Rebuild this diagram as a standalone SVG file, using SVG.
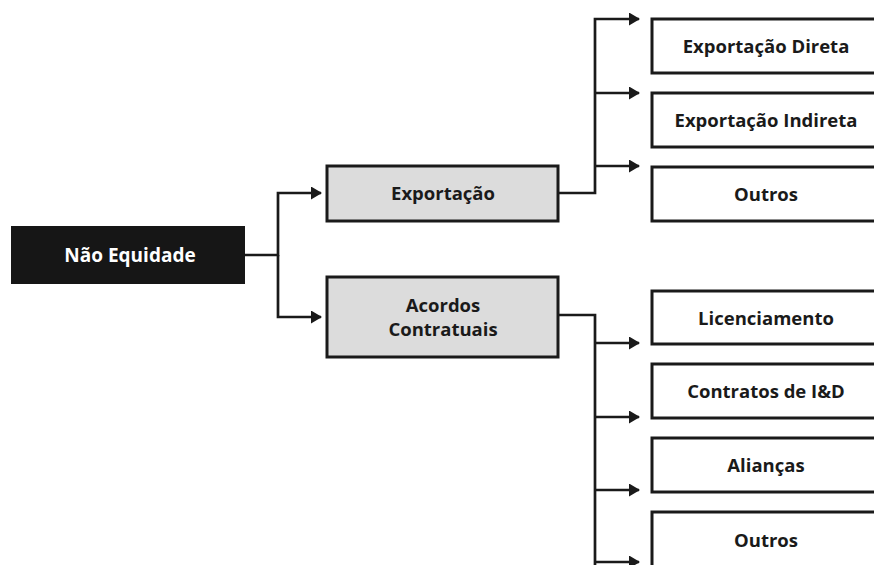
<svg xmlns="http://www.w3.org/2000/svg" width="874" height="565" viewBox="0 0 874 565">
  <style>
    .lbl { font-family: "Open Sans", "Noto Sans", "Liberation Sans", sans-serif; font-weight: bold; font-size: 18.5px; text-anchor: middle; fill: #1a1a1a; }
    .root rect { fill: #161616; stroke: #161616; stroke-width: 2; }
    .root text { fill: #ffffff; }
    .mid rect { fill: #dcdcdc; stroke: #1a1a1a; stroke-width: 3; }
    .leaf rect { fill: #ffffff; stroke: #1a1a1a; stroke-width: 3; }
    .wire { fill: none; stroke: #1a1a1a; stroke-width: 2.7; }
  </style>
  <defs>
    <marker id="arrow" markerWidth="11" markerHeight="13" refX="10" refY="6.5" orient="auto" markerUnits="userSpaceOnUse">
      <path d="M0,0 L11,6.5 L0,13 Z" fill="#1a1a1a"/>
    </marker>
  </defs>
  <rect width="874" height="565" fill="#ffffff"/>

  <!-- connectors -->
  <g id="connectors" class="wire">
    <path d="M244,255 H278 V193 H321" marker-end="url(#arrow)"/>
    <path d="M278,255 V317 H321" marker-end="url(#arrow)"/>
    <path d="M558,193 H595 V19 H639" marker-end="url(#arrow)"/>
    <path d="M595,93 H639" marker-end="url(#arrow)"/>
    <path d="M595,166 H639" marker-end="url(#arrow)"/>
    <path d="M558,315 H595 V570"/>
    <path d="M595,343 H639" marker-end="url(#arrow)"/>
    <path d="M595,417 H639" marker-end="url(#arrow)"/>
    <path d="M595,490 H639" marker-end="url(#arrow)"/>
    <path d="M595,562 H639" marker-end="url(#arrow)"/>
  </g>

  <g id="nao-equidade" class="root">
    <rect x="12" y="227" width="232" height="56"/>
    <text class="lbl" x="130" y="262" style="font-size:19px">Não Equidade</text>
  </g>

  <g id="exportacao" class="mid">
    <rect x="327" y="166" width="231" height="55"/>
    <text class="lbl" x="443" y="200">Exportação</text>
  </g>

  <g id="acordos" class="mid">
    <rect x="327" y="277" width="231" height="80"/>
    <text class="lbl" x="443" y="312">Acordos</text>
    <text class="lbl" x="443" y="336">Contratuais</text>
  </g>

  <g id="exp-direta" class="leaf">
    <rect x="652" y="19" width="230" height="54"/>
    <text class="lbl" x="766" y="53">Exportação Direta</text>
  </g>
  <g id="exp-indireta" class="leaf">
    <rect x="652" y="93" width="230" height="54"/>
    <text class="lbl" x="766" y="127">Exportação Indireta</text>
  </g>
  <g id="exp-outros" class="leaf">
    <rect x="652" y="167" width="230" height="54"/>
    <text class="lbl" x="766" y="201">Outros</text>
  </g>

  <g id="licenciamento" class="leaf">
    <rect x="652" y="291" width="230" height="53"/>
    <text class="lbl" x="766" y="325">Licenciamento</text>
  </g>
  <g id="contratos-id" class="leaf">
    <rect x="652" y="364" width="230" height="54"/>
    <text class="lbl" x="766" y="398">Contratos de I&amp;D</text>
  </g>
  <g id="aliancas" class="leaf">
    <rect x="652" y="438" width="230" height="54"/>
    <text class="lbl" x="766" y="472">Alianças</text>
  </g>
  <g id="acordos-outros" class="leaf">
    <rect x="652" y="512" width="230" height="60"/>
    <text class="lbl" x="766" y="547">Outros</text>
  </g>
</svg>
